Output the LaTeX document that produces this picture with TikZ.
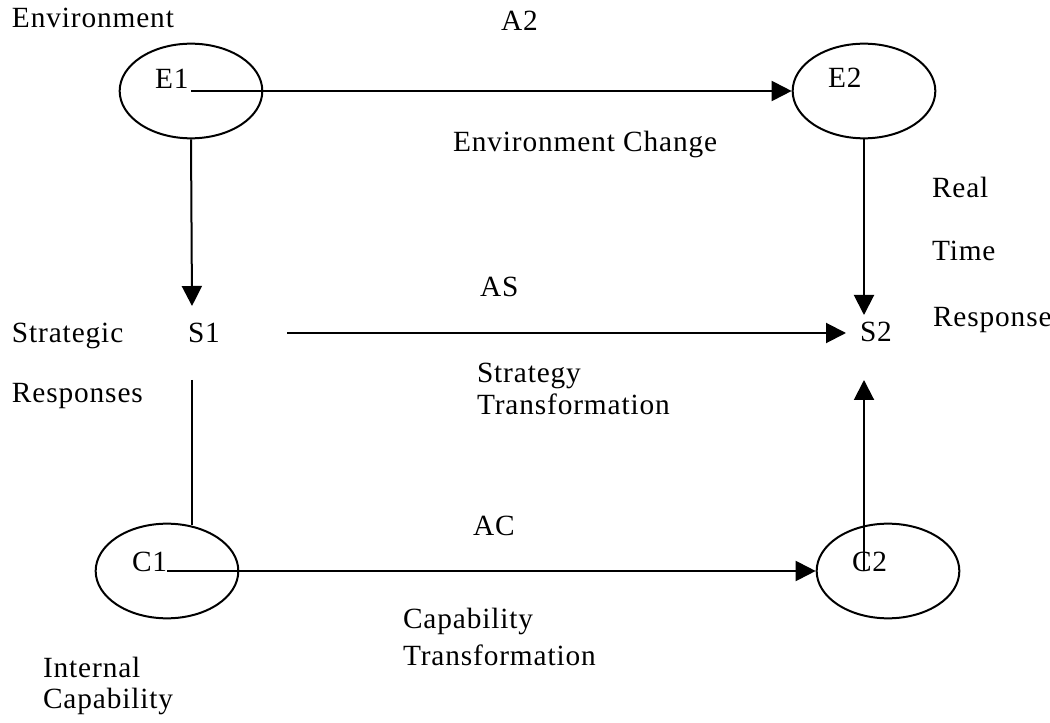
\documentclass[tikz,border=0pt]{standalone}
\usepackage{fontspec}
\setmainfont{Liberation Serif}[LetterSpace=3]
\usetikzlibrary{arrows.meta,shapes.geometric}

\tikzset{every picture/.style={line width=1.5pt}}

\begin{document}
\begin{tikzpicture}[x=0.75pt,y=0.75pt,yscale=-1,xscale=1,
    state/.style={draw, ellipse, minimum width=107pt, minimum height=71pt, inner sep=0pt},
    txt/.style={anchor=base west, inner sep=0pt, font=\fontsize{22}{26}\selectfont},
    flow/.style={-{Triangle[length=15pt,width=15pt]}}]
    \useasboundingbox (0,0) rectangle (1050,723);

    %Ellipses
    \node [state] (e1) at (191,91) {};
    \node [state] (e2) at (864,91) {};
    \node [state] (c1) at (167,571) {};
    \node [state] (c2) at (888,571) {};

    % Text Node
    \node [txt] (env) at (11,28) {Environment};
    \node [txt] (a2) at (500,31) {A2};
    \node [txt] (e1txt) at (154,89) {E1};
    \node [txt] (e2txt) at (827,88) {E2};
    \node [txt] (envchg) at (452,152) {Environment Change};
    \node [txt] (real) at (931,198) {Real};
    \node [txt] (time) at (931,261) {Time};
    \node [txt] (resp) at (932,327) {Response};
    \node [txt] (as) at (479,297) {AS};
    \node [txt] (strat) at (11,343) {Strategic};
    \node [txt] (s1) at (187,343) {S1};
    \node [txt] (s2) at (859,342) {S2};
    \node [txt] (resps) at (11,403) {Responses};
    \node [txt] (strgy) at (476,383) {Strategy};
    \node [txt] (strtr) at (476,415) {Transformation};
    \node [txt] (ac) at (472,536) {AC};
    \node [txt] (c1txt) at (131,571) {C1};
    \node [txt] (c2txt) at (851,571) {C2};
    \node [txt] (cap) at (402,628) {Capability};
    \node [txt] (captr) at (402,665) {Transformation};
    \node [txt] (intl) at (42,677) {Internal};
    \node [txt] (intcap) at (42,708) {Capability};

    %free ends
    \coordinate (s1in) at (192,306);
    \coordinate (s1out) at (192,380);
    \coordinate (c1top) at (192,525);
    \coordinate (s1east) at (287,333);
    \coordinate (s2west) at (846,333);
    \coordinate (s2top) at (864,315);
    \coordinate (s2low) at (864,380);
    \coordinate (c2mid) at (864,571);

    %Straight Lines
    \draw [flow] (e1.center) -- (e2.west);
    \draw [flow] (e1.south) -- (s1in);
    \draw (s1out) -- (c1top);
    \draw [flow] (s1east) -- (s2west);
    \draw [flow] (e2.south) -- (s2top);
    \draw [flow] (c2mid) -- (s2low);
    \draw [flow] (c1.center) -- (c2.west);
\end{tikzpicture}
\end{document}
